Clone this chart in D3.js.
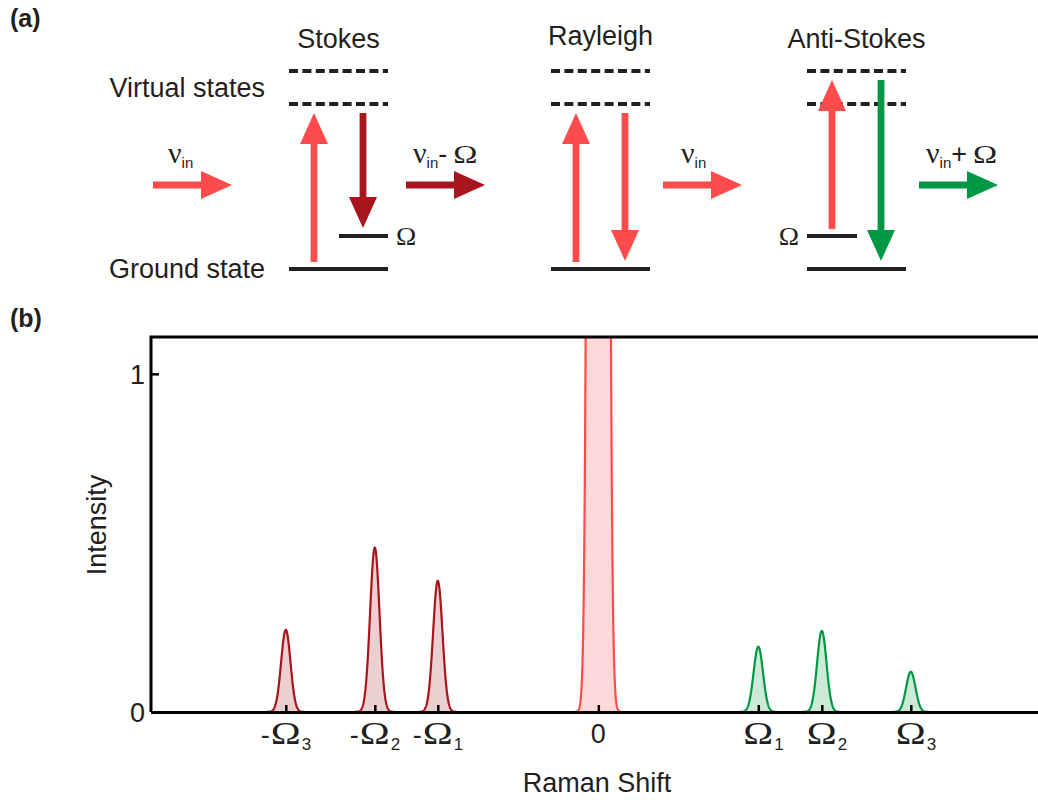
<!DOCTYPE html>
<html>
<head>
<meta charset="utf-8">
<script src="https://cdn.jsdelivr.net/npm/d3@7"></script>
<style>
body { margin: 0; background: #fff; }
text { font-family: "Liberation Sans", Arial, sans-serif; fill: #231f20; }
.serif { font-family: "Liberation Serif", "Times New Roman", serif; }
</style>
</head>
<body>
<div id="block"></div>
<script>
// data: spectrum (b)
var tickPos = [-3.125, -2.235, -1.605, 0, 1.6, 2.235, 3.125];
var tickNames = ["-Ω3", "-Ω2", "-Ω1", "0", "Ω1", "Ω2", "Ω3"];
var stokesPos = [-3.125, -2.235, -1.605];
var stokesHeight = [0.243, 0.486, 0.388];
var antiPos = [1.6, 2.235, 3.125];
var antiHeight = [0.193, 0.240, 0.119];
var rayleighPos = [0];
var rayleighHeight = [42];
var peakWidth = 0.047;
var yTicks = [0, 1];

// data: energy diagram (a)
var processes = ["Stokes", "Rayleigh", "Anti-Stokes"];
var virtualLevels = [5, 6];
var vibLevel = 1;
var upFrom = [0, 0, 1], upTo = [5, 5, 6];
var downFrom = [5, 5, 6], downTo = [1, 0, 0];
var beamSign = ["", "-", "", "+"];

// colours
var lightRed = "#ff4b4b", darkRed = "#a8151c", green = "#009844", ink = "#231f20";

var svg = d3.select("#block").append("svg")
            .attr("width", 1038)
            .attr("height", 800);

// ---------- (a) energy diagram ----------
var yE = d3.scaleLinear().domain([0, 6]).range([269, 71]);
var colX = [289, 551, 807], colW = 99;
var beamX = [153, 406, 663, 919];
var beamColor = [lightRed, darkRed, lightRed, green];
var downColor = [darkRed, lightRed, green];

function arrow(g, x1, y1, x2, y2, color) {
    var dx = x2 - x1, dy = y2 - y1, len = Math.sqrt(dx * dx + dy * dy);
    var ux = dx / len, uy = dy / len, px = -uy, py = ux;
    var sw = 3.4, hl = 31, hw = 14;
    var bx = x2 - ux * hl, by = y2 - uy * hl;
    var pts = [
        [x1 + px * sw, y1 + py * sw], [bx + px * sw, by + py * sw],
        [bx + px * hw, by + py * hw], [x2, y2],
        [bx - px * hw, by - py * hw], [bx - px * sw, by - py * sw],
        [x1 - px * sw, y1 - py * sw]
    ];
    g.append("path").attr("d", "M" + pts.join("L") + "Z").attr("fill", color);
}

// stretched omega, like the symbol font of the original
function omega(g, x, y, size, sx, anchor) {
    var t = g.append("text").attr("class", "serif")
             .attr("transform", "translate(" + x + "," + y + ") scale(" + sx + ",1)")
             .attr("text-anchor", anchor || "start")
             .style("font-size", size + "px").text("Ω");
    return t.node().getComputedTextLength() * sx;
}

var ga = svg.append("g");

ga.append("text").attr("x", 10).attr("y", 27)
  .style("font-weight", "bold").style("font-size", "25px").text("(a)");

ga.append("text").attr("x", 265).attr("y", 97).attr("text-anchor", "end")
  .style("font-size", "27px").text("Virtual states");
ga.append("text").attr("x", 265).attr("y", 278).attr("text-anchor", "end")
  .style("font-size", "27px").text("Ground state");

processes.forEach(function (name, i) {
    var x0 = colX[i];
    ga.append("text").attr("x", x0 + colW / 2).attr("y", i == 1 ? 45 : 48)
      .attr("text-anchor", "middle").style("font-size", "27px").text(name);

    virtualLevels.forEach(function (v) {
        ga.append("line").attr("x1", x0).attr("x2", x0 + colW)
          .attr("y1", yE(v)).attr("y2", yE(v))
          .attr("stroke", ink).attr("stroke-width", 4)
          .attr("stroke-dasharray", "9,4.4");
    });
    ga.append("line").attr("x1", x0).attr("x2", x0 + colW)
      .attr("y1", yE(0)).attr("y2", yE(0))
      .attr("stroke", ink).attr("stroke-width", 4);

    // vibrational level
    if (i == 0) {
        ga.append("line").attr("x1", x0 + 50).attr("x2", x0 + colW)
          .attr("y1", yE(vibLevel)).attr("y2", yE(vibLevel))
          .attr("stroke", ink).attr("stroke-width", 4);
        omega(ga, x0 + colW + 8, yE(vibLevel) + 9, 26, 1.05);
    }
    if (i == 2) {
        ga.append("line").attr("x1", x0).attr("x2", x0 + 50)
          .attr("y1", yE(vibLevel)).attr("y2", yE(vibLevel))
          .attr("stroke", ink).attr("stroke-width", 4);
        omega(ga, x0 - 8, yE(vibLevel) + 9, 26, 1.05, "end");
    }

    // transitions
    arrow(ga, x0 + 25, yE(upFrom[i]) - 7, x0 + 25, yE(upTo[i]) + 9, lightRed);
    arrow(ga, x0 + 74, yE(downFrom[i]) + 9, x0 + 74, yE(downTo[i]) - 8, downColor[i]);
});

// beams
beamX.forEach(function (x, i) {
    arrow(ga, x, 185, x + 79, 185, beamColor[i]);
    var tx = i == 0 ? x + 15 : (i == 2 ? x + 18 : x + 7);
    var t = ga.append("text").attr("x", tx).attr("y", 163);
    t.append("tspan").attr("class", "serif").style("font-size", "30px").text("ν");
    t.append("tspan").attr("dy", 5).style("font-size", "15px").text("in");
    if (beamSign[i]) {
        t.append("tspan").attr("dy", -5).style("font-size", "27px").text(beamSign[i]);
        var w = t.node().getComputedTextLength();
        omega(ga, tx + w + 6, 163, 25, 1.3);
    }
});

// ---------- (b) spectrum ----------
var margin = {top: 337, left: 151, bottom: 712, right: 1040};
var xScale = d3.scaleLinear().domain([-4.473, 4.417]).range([margin.left, margin.right]);
var yScale = d3.scaleLinear().domain([0, 1.109]).range([margin.bottom, margin.top]);

var gb = svg.append("g");
gb.append("text").attr("x", 10).attr("y", 327)
  .style("font-weight", "bold").style("font-size", "25px").text("(b)");

gb.append("clipPath").attr("id", "plotclip").append("rect")
  .attr("x", margin.left).attr("y", margin.top)
  .attr("width", margin.right - margin.left).attr("height", margin.bottom - margin.top);

var steps = d3.range(-6, 6.001, 0.05);
function peakPoints(pos, h) {
    return steps.map(function (s) {
        return [pos + s * peakWidth, h * Math.exp(-s * s / 2)];
    });
}
var area = d3.area().x(function (d) { return xScale(d[0]); })
             .y0(yScale(0)).y1(function (d) { return yScale(d[1]); });
var line = d3.line().x(function (d) { return xScale(d[0]); })
             .y(function (d) { return yScale(d[1]); });

var groups = [
    {pos: stokesPos, h: stokesHeight, stroke: darkRed, fill: "#eccfd0"},
    {pos: rayleighPos, h: rayleighHeight, stroke: lightRed, fill: "#ffd9d9"},
    {pos: antiPos, h: antiHeight, stroke: green, fill: "#cde9d7"}
];
var peaks = gb.append("g").attr("clip-path", "url(#plotclip)");
groups.forEach(function (grp) {
    grp.pos.forEach(function (p, i) {
        var pts = peakPoints(p, grp.h[i]);
        peaks.append("path").attr("d", area(pts)).attr("fill", grp.fill);
        peaks.append("path").attr("d", line(pts)).attr("fill", "none")
             .attr("stroke", grp.stroke).attr("stroke-width", 2.2);
    });
});

// frame (left + top)
gb.append("path")
  .attr("d", "M" + margin.left + "," + margin.bottom + "V" + margin.top + "H" + margin.right)
  .attr("fill", "none").attr("stroke", "#000").attr("stroke-width", 3);

// x axis
var xAxis = d3.axisBottom(xScale).tickValues(tickPos).tickSizeInner(-7).tickSizeOuter(0).tickFormat("");
var gx = gb.append("g").attr("transform", "translate(0," + margin.bottom + ")").call(xAxis);
gx.select(".domain").attr("stroke", "#000").attr("stroke-width", 3);
gx.selectAll(".tick line").attr("stroke", "#000").attr("stroke-width", 2.5);

tickNames.forEach(function (name, i) {
    var x = xScale(tickPos[i]);
    if (name == "0") {
        gb.append("text").attr("x", x).attr("y", 743).attr("text-anchor", "middle")
          .style("font-size", "27px").text("0");
        return;
    }
    var sign = name.charAt(0) == "-" ? "-" : "";
    var sub = name.charAt(name.length - 1);
    var w = omega(gb, x, 744, 31, 1.3, "middle");
    if (sign) {
        gb.append("text").attr("x", x - w / 2 - 1).attr("y", 744).attr("text-anchor", "end")
          .style("font-size", "27px").text(sign);
    }
    gb.append("text").attr("x", x + w / 2 + 1).attr("y", 750)
      .style("font-size", "17px").text(sub);
});

// y axis
var yAxis = d3.axisLeft(yScale).tickValues(yTicks).tickSizeInner(-8).tickSizeOuter(0).tickFormat("");
var gy = gb.append("g").attr("transform", "translate(" + margin.left + ",0)").call(yAxis);
gy.select(".domain").remove();
gy.selectAll(".tick line").attr("stroke", "#000").attr("stroke-width", 2.5);
yTicks.forEach(function (v) {
    gb.append("text").attr("x", 145).attr("y", yScale(v) + 10).attr("text-anchor", "end")
      .style("font-size", "27px").text(v);
});

// axis titles
gb.append("text").attr("transform", "translate(106,525) rotate(-90)")
  .attr("text-anchor", "middle").style("font-size", "27px").text("Intensity");
gb.append("text").attr("x", 597).attr("y", 792).attr("text-anchor", "middle")
  .style("font-size", "27px").text("Raman Shift");
</script>
</body>
</html>
